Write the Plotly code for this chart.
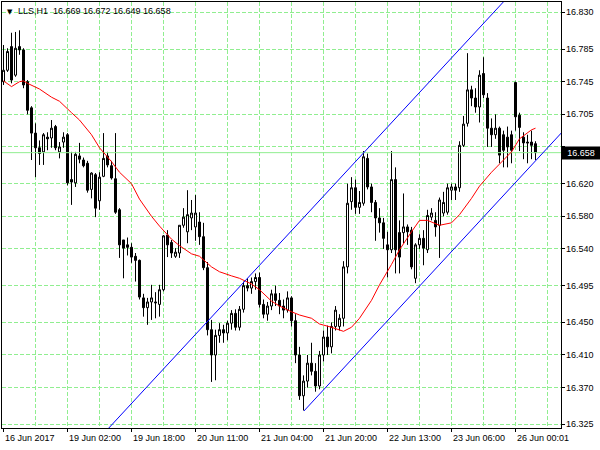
import plotly.graph_objects as go

# ---------------- data ----------------
opens = [
    16.745, 16.759, 16.788, 16.753, 16.788, 16.784, 16.745, 16.713, 16.682, 16.664,
    16.659, 16.677, 16.676, 16.690, 16.659, 16.671, 16.680, 16.625, 16.621, 16.654,
    16.649, 16.645, 16.613, 16.631, 16.599, 16.629, 16.654, 16.642, 16.626, 16.588,
    16.551, 16.545, 16.542, 16.531, 16.526, 16.480, 16.468, 16.475, 16.475, 16.472,
    16.490, 16.557, 16.548, 16.531, 16.535, 16.569, 16.561, 16.578, 16.567, 16.573,
    16.555, 16.517, 16.441, 16.410, 16.434, 16.441, 16.437, 16.449, 16.461, 16.444,
    16.466, 16.495, 16.492, 16.500, 16.505, 16.472, 16.460, 16.470, 16.485, 16.477,
    16.470, 16.465, 16.480, 16.452, 16.410, 16.360, 16.378, 16.400, 16.390, 16.372,
    16.410, 16.432, 16.420, 16.445, 16.445, 16.455, 16.518, 16.598, 16.615, 16.591,
    16.596, 16.651, 16.616, 16.597, 16.578, 16.572, 16.545, 16.539, 16.625, 16.560,
    16.560, 16.567, 16.563, 16.504, 16.545, 16.553, 16.539, 16.579, 16.575, 16.569,
    16.584, 16.585, 16.612, 16.616, 16.615, 16.667, 16.694, 16.735, 16.725, 16.714,
    16.755, 16.725, 16.688, 16.680, 16.688, 16.680, 16.677, 16.680, 16.744, 16.704,
    16.677, 16.671, 16.671, 16.669,
]
highs = [
    16.790, 16.786, 16.805, 16.806, 16.808, 16.786, 16.747, 16.715, 16.694, 16.673,
    16.682, 16.683, 16.698, 16.692, 16.671, 16.683, 16.682, 16.659, 16.659, 16.670,
    16.652, 16.648, 16.634, 16.633, 16.634, 16.682, 16.659, 16.648, 16.682, 16.590,
    16.551, 16.554, 16.547, 16.535, 16.527, 16.485, 16.480, 16.496, 16.487, 16.496,
    16.557, 16.563, 16.551, 16.541, 16.569, 16.590, 16.612, 16.600, 16.606, 16.585,
    16.572, 16.524, 16.453, 16.441, 16.449, 16.447, 16.452, 16.465, 16.466, 16.470,
    16.500, 16.504, 16.505, 16.510, 16.511, 16.478, 16.475, 16.490, 16.495, 16.486,
    16.478, 16.488, 16.482, 16.460, 16.420, 16.385, 16.410, 16.425, 16.400, 16.415,
    16.440, 16.446, 16.450, 16.470, 16.460, 16.525, 16.620, 16.628, 16.625, 16.611,
    16.660, 16.657, 16.620, 16.600, 16.590, 16.578, 16.561, 16.660, 16.640, 16.575,
    16.608, 16.570, 16.567, 16.547, 16.558, 16.563, 16.588, 16.590, 16.585, 16.603,
    16.610, 16.620, 16.620, 16.620, 16.672, 16.703, 16.780, 16.740, 16.737, 16.759,
    16.775, 16.731, 16.700, 16.705, 16.690, 16.685, 16.690, 16.685, 16.745, 16.707,
    16.683, 16.680, 16.685, 16.672,
]
lows = [
    16.741, 16.757, 16.743, 16.751, 16.778, 16.737, 16.705, 16.649, 16.628, 16.643,
    16.643, 16.661, 16.664, 16.661, 16.651, 16.664, 16.618, 16.594, 16.616, 16.645,
    16.640, 16.609, 16.602, 16.579, 16.588, 16.628, 16.640, 16.625, 16.583, 16.529,
    16.504, 16.532, 16.523, 16.500, 16.478, 16.457, 16.447, 16.453, 16.455, 16.457,
    16.488, 16.530, 16.529, 16.529, 16.529, 16.566, 16.547, 16.563, 16.550, 16.545,
    16.514, 16.434, 16.377, 16.379, 16.425, 16.425, 16.428, 16.441, 16.440, 16.440,
    16.462, 16.488, 16.485, 16.490, 16.468, 16.455, 16.452, 16.465, 16.470, 16.460,
    16.455, 16.462, 16.445, 16.400, 16.355, 16.342, 16.370, 16.385, 16.365, 16.368,
    16.402, 16.410, 16.412, 16.440, 16.440, 16.445, 16.510, 16.588, 16.583, 16.583,
    16.593, 16.613, 16.585, 16.550, 16.560, 16.540, 16.505, 16.535, 16.510, 16.510,
    16.547, 16.545, 16.515, 16.498, 16.540, 16.520, 16.535, 16.575, 16.555, 16.529,
    16.580, 16.582, 16.600, 16.600, 16.610, 16.665, 16.690, 16.715, 16.707, 16.695,
    16.725, 16.665, 16.665, 16.675, 16.645, 16.640, 16.640, 16.645, 16.685, 16.660,
    16.650, 16.645, 16.650, 16.649,
]
closes = [
    16.759, 16.782, 16.747, 16.786, 16.784, 16.741, 16.710, 16.682, 16.664, 16.657,
    16.680, 16.675, 16.688, 16.664, 16.665, 16.677, 16.621, 16.622, 16.656, 16.650,
    16.642, 16.612, 16.633, 16.590, 16.628, 16.651, 16.643, 16.627, 16.585, 16.545,
    16.541, 16.542, 16.530, 16.526, 16.481, 16.468, 16.475, 16.480, 16.474, 16.490,
    16.556, 16.545, 16.535, 16.536, 16.569, 16.579, 16.582, 16.584, 16.584, 16.555,
    16.517, 16.441, 16.410, 16.434, 16.441, 16.437, 16.449, 16.461, 16.444, 16.466,
    16.495, 16.492, 16.500, 16.505, 16.472, 16.460, 16.470, 16.485, 16.477, 16.470,
    16.465, 16.480, 16.452, 16.410, 16.360, 16.378, 16.400, 16.390, 16.372, 16.410,
    16.432, 16.420, 16.445, 16.465, 16.455, 16.518, 16.596, 16.615, 16.591, 16.597,
    16.653, 16.616, 16.597, 16.578, 16.572, 16.553, 16.539, 16.625, 16.539, 16.530,
    16.567, 16.561, 16.518, 16.545, 16.553, 16.541, 16.581, 16.584, 16.567, 16.600,
    16.597, 16.615, 16.616, 16.612, 16.667, 16.693, 16.735, 16.725, 16.714, 16.753,
    16.729, 16.688, 16.680, 16.688, 16.655, 16.661, 16.665, 16.661, 16.702, 16.689,
    16.670, 16.670, 16.667, 16.658,
]
bars = list(range(len(opens)))

# moving average (red line) read at sampled bars
ma_bars = [0, 2, 4, 5, 6, 9, 12, 14, 17, 19, 22, 24, 27, 29, 32, 34, 37, 39, 42, 44,
           47, 49, 52, 54, 57, 59, 62, 64, 67, 69, 72, 74, 77, 79, 82, 85, 87, 89, 92,
           94, 97, 99, 102, 104, 106, 109, 112, 114, 117, 119, 122, 124, 127, 129, 132, 133]
ma_vals = [16.746, 16.739, 16.745, 16.746, 16.743, 16.736, 16.726, 16.721, 16.707, 16.698,
           16.680, 16.664, 16.647, 16.634, 16.620, 16.601, 16.580, 16.568, 16.552, 16.544,
           16.534, 16.531, 16.518, 16.512, 16.507, 16.504, 16.497, 16.490, 16.476, 16.470,
           16.463, 16.459, 16.455, 16.448, 16.444, 16.439, 16.444, 16.455, 16.477, 16.496,
           16.521, 16.539, 16.561, 16.575, 16.575, 16.569, 16.572, 16.582, 16.602, 16.617,
           16.634, 16.644, 16.659, 16.675, 16.686, 16.688]

# equidistant channel (blue)
chan_lower_bars = [75.1, 139.5]
chan_lower_prices = [16.3413, 16.6824]
chan_upper_bars = [20.0, 139.5]
chan_upper_prices = [16.2870, 16.9197]

bid_price = 16.658
header = "LLS,H1\u00a0\u00a016.669 16.672 16.649 16.658"

time_tick_bars = [0, 16, 32, 48, 64, 80, 96, 112, 128]
time_tick_labels = ["16 Jun 2017", "19 Jun 02:00", "19 Jun 18:00", "20 Jun 11:00",
                    "21 Jun 04:00", "21 Jun 20:00", "22 Jun 13:00", "23 Jun 06:00",
                    "26 Jun 00:01"]
grid_bars = [8, 16, 24, 32, 40, 48, 56, 64, 72, 80, 88, 96, 104, 112, 120, 128, 136]
price_ticks = [16.830, 16.785, 16.745, 16.705, 16.665, 16.620, 16.580, 16.540,
               16.495, 16.450, 16.410, 16.370, 16.325]

# ---------------- styling ----------------
FONT = "Liberation Sans, Arial, sans-serif"
FS = 9
GRID = "#90EE90"
DASH = "4px,2px"
x_range = [-0.375, 139.375]
y_range = [16.3205, 16.8427]

fig = go.Figure()

# invisible helper trace so the grid-only overlay axis is drawn
fig.add_trace(go.Scatter(x=[bars[0]], y=[bid_price], xaxis="x2", mode="markers",
                         marker=dict(opacity=0), hoverinfo="skip"))

fig.add_trace(go.Scatter(x=x_range, y=[bid_price, bid_price], mode="lines",
                         line=dict(color=GRID, width=1), hoverinfo="skip"))

fig.add_trace(go.Candlestick(
    x=bars, open=opens, high=highs, low=lows, close=closes,
    increasing=dict(line=dict(color="black", width=1), fillcolor="white"),
    decreasing=dict(line=dict(color="black", width=1), fillcolor="black"),
    whiskerwidth=0, hoverinfo="skip"))

fig.add_trace(go.Scatter(x=ma_bars, y=ma_vals, mode="lines",
                         line=dict(color="red", width=1), hoverinfo="skip"))
fig.add_trace(go.Scatter(x=chan_lower_bars, y=chan_lower_prices, mode="lines",
                         line=dict(color="blue", width=1), hoverinfo="skip"))
fig.add_trace(go.Scatter(x=chan_upper_bars, y=chan_upper_prices, mode="lines",
                         line=dict(color="blue", width=1), hoverinfo="skip"))

annotations = []
for tb, tl in zip(time_tick_bars, time_tick_labels):
    annotations.append(dict(x=tb, y=0, xref="x", yref="paper", text=tl, showarrow=False,
                            xanchor="left", yanchor="top", xshift=-1, yshift=-3,
                            font=dict(family=FONT, size=FS, color="black")))
for pv in price_ticks:
    if abs(pv - bid_price) < 0.012:
        continue
    annotations.append(dict(x=1, y=pv, xref="paper", yref="y", text="%.3f" % pv,
                            showarrow=False, xanchor="left", yanchor="middle", xshift=3,
                            font=dict(family=FONT, size=FS, color="black")))
annotations.append(dict(x=0, y=1, xref="paper", yref="paper", text="\u25bc", showarrow=False,
                        xanchor="left", yanchor="top", xshift=3, yshift=-4,
                        font=dict(family="DejaVu Sans", size=7, color="black")))
annotations.append(dict(x=0, y=1, xref="paper", yref="paper", text=header, showarrow=False,
                        xanchor="left", yanchor="top", xshift=14, yshift=-2,
                        font=dict(family=FONT, size=FS, color="black")))
annotations.append(dict(x=1, y=bid_price, xref="paper", yref="y", text="%.3f" % bid_price,
                        showarrow=False, xanchor="left", yanchor="middle", xshift=0,
                        bgcolor="black", borderpad=0, width=38, height=12, align="center",
                        font=dict(family=FONT, size=FS, color="white")))

fig.update_layout(
    width=600, height=450,
    margin=dict(l=2, r=39, t=2, b=22),
    paper_bgcolor="white", plot_bgcolor="white",
    showlegend=False,
    boxgap=0, boxgroupgap=0.5,
    annotations=annotations,
    font=dict(family=FONT, size=FS, color="black"),
    xaxis=dict(range=x_range, rangeslider=dict(visible=False), showgrid=False,
               zeroline=False, showline=True, linecolor="black", linewidth=1, mirror=True,
               tickmode="array", tickvals=time_tick_bars, showticklabels=False,
               ticks="outside", ticklen=3, tickcolor="black"),
    xaxis2=dict(overlaying="x", matches="x", range=x_range, showgrid=True, gridcolor=GRID,
                griddash=DASH, gridwidth=1, zeroline=False, showline=False,
                tickmode="array", tickvals=grid_bars, showticklabels=False, ticks=""),
    yaxis=dict(range=y_range, side="right", showgrid=True, gridcolor=GRID, griddash=DASH,
               gridwidth=1, zeroline=False, showline=True, linecolor="black", linewidth=1,
               mirror=True, tickmode="array", tickvals=price_ticks, showticklabels=False,
               ticks="outside", ticklen=3, tickcolor="black"),
)

fig.write_html("out.html", config={"displayModeBar": False},
               post_script="document.body.style.margin='0px';")
